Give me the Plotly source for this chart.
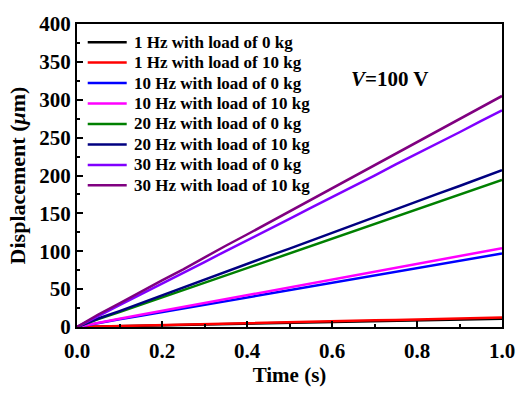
import plotly.graph_objects as go

# Time axis (s)
time_s = [0.00, 0.05, 0.10, 0.15, 0.20, 0.25, 0.30, 0.35, 0.40, 0.45, 0.50,
          0.55, 0.60, 0.65, 0.70, 0.75, 0.80, 0.85, 0.90, 0.95, 1.00]

# Displacement (um) for each drive frequency / load combination
disp_1hz_0kg = [0, 0.5, 1.1, 1.6, 2.2, 2.7, 3.3, 3.8, 4.4, 5.0, 5.5,
                6.0, 6.6, 7.1, 7.7, 8.2, 8.8, 9.3, 9.9, 10.4, 11.0]
disp_1hz_10kg = [0, 0.7, 1.3, 1.9, 2.5, 3.1, 3.8, 4.4, 5.0, 5.6, 6.3,
                 6.9, 7.5, 8.1, 8.8, 9.4, 10.0, 10.6, 11.3, 11.9, 12.5]
disp_10hz_0kg = [0, 5.4, 10.1, 14.7, 19.6, 24.4, 29.1, 34.0, 38.8, 43.7, 48.4,
                 53.4, 58.1, 63.0, 67.8, 72.7, 77.5, 82.4, 87.2, 92.1, 97.0]
disp_10hz_10kg = [0, 6.0, 11.0, 16.1, 21.3, 26.4, 31.4, 36.6, 41.7, 46.9, 52.0,
                  57.3, 62.3, 67.6, 72.6, 77.9, 82.9, 88.2, 93.3, 98.7, 104.0]
disp_20hz_0kg = [0, 10.4, 19.6, 29.3, 38.9, 48.8, 58.2, 68.1, 77.5, 87.4, 96.8,
                 106.7, 116.2, 126.1, 135.6, 145.5, 155.0, 164.8, 174.4, 184.3, 194.0]
disp_20hz_10kg = [0, 11.2, 21.0, 31.5, 41.8, 52.3, 62.4, 72.9, 83.0, 93.6, 103.5,
                  114.0, 124.3, 134.8, 144.9, 155.4, 165.6, 176.1, 186.2, 196.8, 207.0]
disp_30hz_0kg = [0, 14.8, 28.9, 43.2, 57.0, 71.8, 85.6, 100.3, 114.2, 128.9, 142.7,
                 157.4, 171.3, 186.0, 199.8, 214.6, 228.5, 243.2, 257.1, 271.8, 286.0]
disp_30hz_10kg = [0, 16.5, 31.2, 46.8, 61.5, 76.2, 92.0, 107.3, 122.1, 137.4, 152.8,
                  167.6, 183.1, 198.5, 213.2, 228.9, 244.3, 259.4, 274.6, 289.8, 305.0]

series_names = [
    "1 Hz with load of 0 kg", "1 Hz with load of 10 kg",
    "10 Hz with load of 0 kg", "10 Hz with load of 10 kg",
    "20 Hz with load of 0 kg", "20 Hz with load of 10 kg",
    "30 Hz with load of 0 kg", "30 Hz with load of 10 kg",
]
series_values = [
    disp_1hz_0kg, disp_1hz_10kg, disp_10hz_0kg, disp_10hz_10kg,
    disp_20hz_0kg, disp_20hz_10kg, disp_30hz_0kg, disp_30hz_10kg,
]
series_colors = ["#000000", "#ff0000", "#0000ff", "#ff00ff",
                 "#008000", "#000080", "#8000ff", "#800080"]

FONT = "Liberation Serif"
W, H = 527, 393
M_L, M_R, M_T, M_B = 77, 14, 13, 63
PLOT_W = W - M_L - M_R
PLOT_H = H - M_T - M_B

fig = go.Figure()
for name, vals, col in zip(series_names, series_values, series_colors):
    fig.add_trace(go.Scatter(
        x=time_s, y=vals, mode="lines", name=name, showlegend=False,
        line=dict(color=col, width=2.5),
    ))

# Legend drawn as line samples + labels inside the upper-left of the axes
leg_line_x0, leg_line_x1, leg_text_x = 11, 51, 56   # px from left edge of plot
leg_row0, leg_row_step = 19, 21.4                   # px from top edge of plot
for i, (name, col) in enumerate(zip(series_names, series_colors)):
    yfrac = 1 - (leg_row0 + i * leg_row_step) / PLOT_H
    fig.add_shape(
        type="line", xref="x domain", yref="y domain",
        x0=leg_line_x0 / PLOT_W, x1=leg_line_x1 / PLOT_W, y0=yfrac, y1=yfrac,
        line=dict(color=col, width=2.5),
    )
    fig.add_annotation(
        xref="x domain", yref="y domain", x=leg_text_x / PLOT_W, y=yfrac,
        xanchor="left", yanchor="middle", showarrow=False, text=name,
        font=dict(family=FONT, size=17, color="black", weight="bold"),
    )

axis_common = dict(
    showline=True, linecolor="black", linewidth=2, mirror=True,
    ticks="inside", ticklen=6, tickwidth=1.5, tickcolor="black",
    showgrid=False, zeroline=False,
    tickfont=dict(family=FONT, size=21, color="black", weight="bold"),
)

fig.update_xaxes(
    range=[0, 1.0], dtick=0.2, tickformat=".1f", ticklabelstandoff=4,
    minor=dict(dtick=0.1, ticks="inside", ticklen=3, tickcolor="black", tickwidth=1.5),
    title=dict(text="Time (s)", font=dict(family=FONT, size=21, color="black", weight="bold"),
               standoff=3),
    **axis_common,
)
fig.update_yaxes(
    range=[0, 400], dtick=50,
    minor=dict(dtick=25, ticks="inside", ticklen=3, tickcolor="black", tickwidth=1.5),
    title=dict(text="Displacement (<i>μ</i>m)",
               font=dict(family=FONT, size=22, color="black", weight="bold"),
               standoff=8),
    **axis_common,
)

fig.add_annotation(
    x=0.736, y=328, xref="x", yref="y", showarrow=False,
    text="<i>V</i>=100 V",
    font=dict(family=FONT, size=21, color="black", weight="bold"),
)

fig.update_layout(
    width=W, height=H,
    margin=dict(l=M_L, r=M_R, t=M_T, b=M_B),
    plot_bgcolor="white", paper_bgcolor="white",
    showlegend=False,
)

fig.write_html("out.html")
